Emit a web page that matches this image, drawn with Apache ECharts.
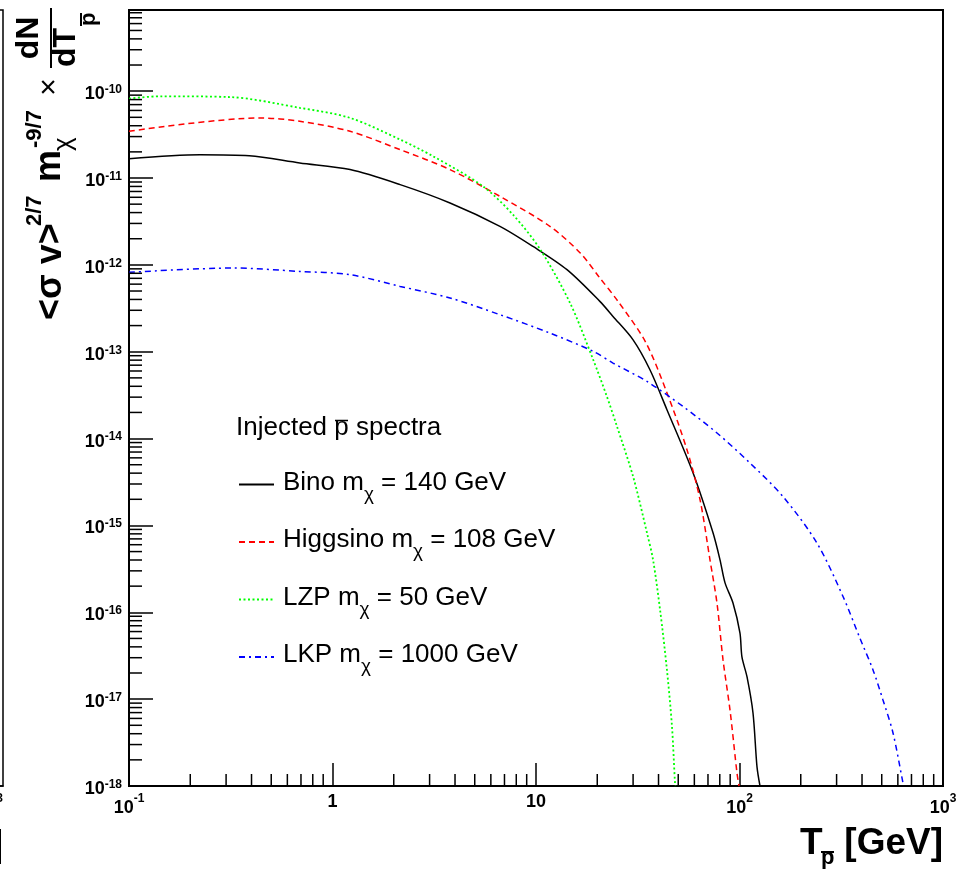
<!DOCTYPE html>
<html>
<head>
<meta charset="utf-8">
<script src="https://cdn.jsdelivr.net/npm/echarts@6/dist/echarts.min.js"></script>
<style>
  html, body { margin: 0; padding: 0; background: #fff; }
  #chart { width: 968px; height: 871px; }
</style>
</head>
<body>
<div id="chart"></div>
<script>
// Injected antiproton spectra: kinetic energy T [GeV] vs. scaled yield
const binoEnergy = [0.1, 0.223, 0.39, 0.69, 1.22, 2.15, 3.78, 6.65, 9.67, 14.2, 20.6, 23.9, 30.0, 36.3, 44.0, 59.1, 74.1, 80.2, 84.9, 92.9, 100.5, 102.8, 108.9, 116.5, 121.9, 126.1];
const binoFlux = [1.67e-11, 1.85e-11, 1.80e-11, 1.49e-11, 1.25e-11, 8.39e-12, 5.16e-12, 2.78e-12, 1.63e-12, 8.81e-13, 3.80e-13, 2.55e-13, 1.37e-13, 6.2e-14, 2.15e-14, 4.04e-15, 8.22e-16, 4.02e-16, 2.18e-16, 1.28e-16, 5.79e-17, 3.06e-17, 1.80e-17, 6.93e-18, 1.66e-18, 1.0e-18];

const higgsinoEnergy = [0.1, 0.44, 0.69, 1.22, 2.15, 3.78, 6.65, 11.7, 16.5, 20.6, 25.3, 34.5, 44.0, 55.2, 64.0, 71.6, 77.5, 83.0, 89.8, 97.2, 99.5];
const higgsinoFlux = [3.45e-11, 4.92e-11, 4.50e-11, 3.45e-11, 2.12e-11, 1.25e-11, 6.15e-12, 2.78e-12, 1.37e-12, 7.06e-13, 3.80e-13, 1.30e-13, 3.37e-14, 7.43e-15, 1.97e-15, 4.02e-16, 1.28e-16, 2.83e-17, 7.52e-18, 1.41e-18, 1.0e-18];

const lzpEnergy = [0.1, 0.142, 0.313, 0.69, 1.22, 2.15, 3.12, 5.49, 7.71, 10.5, 14.7, 19.1, 22.3, 25.0, 30.0, 35.1, 37.6, 40.7, 44.0, 46.6, 48.2, 48.5];
const lzpFlux = [8.22e-11, 8.73e-11, 8.55e-11, 6.43e-11, 4.92e-11, 2.77e-11, 1.78e-11, 8.02e-12, 3.78e-12, 1.50e-12, 3.64e-13, 8.09e-14, 3.05e-14, 1.38e-14, 3.66e-15, 8.22e-16, 4.02e-16, 1.07e-16, 2.17e-17, 4.79e-18, 1.08e-18, 1.0e-18];

const lkpEnergy = [0.1, 0.324, 0.69, 1.22, 2.15, 3.78, 6.65, 11.7, 19.1, 23.9, 35.1, 52.8, 77.5, 112.7, 163.6, 240.4, 322.6, 391, 453, 507, 568, 636, 640];
const lkpFlux = [8.20e-13, 9.20e-13, 8.41e-13, 7.71e-13, 5.65e-13, 4.16e-13, 2.67e-13, 1.64e-13, 1.01e-13, 7.41e-14, 4.55e-14, 2.34e-14, 1.16e-14, 5.22e-15, 2.15e-15, 6.25e-16, 1.52e-16, 5.0e-17, 2.17e-17, 9.79e-18, 4.08e-18, 1.08e-18, 1.0e-18];

const modelNames = ['Bino', 'Higgsino', 'LZP', 'LKP'];
const modelMasses = [140, 108, 50, 1000];

// Axis ranges and log-axis tick structure
const xMin = 0.1, xMax = 1000;
const yMin = 1e-18, yMax = 8.6e-10;
const xDecades = [0.1, 1, 10, 100];
const yDecades = [1e-18, 1e-17, 1e-16, 1e-15, 1e-14, 1e-13, 1e-12, 1e-11, 1e-10];
const minorSteps = [2, 3, 4, 5, 6, 7, 8, 9];

const FONT = 'Liberation Sans, Arial, Helvetica, sans-serif';

const zip = (xs, ys) => xs.map((x, i) => [x, ys[i]]);

const xMinorTicks = [];
xDecades.forEach(d => minorSteps.forEach(s => xMinorTicks.push([d * s, yMin])));
const yMinorTicks = [];
yDecades.forEach(d => minorSteps.forEach(s => { if (d * s < yMax) yMinorTicks.push([xMin, d * s]); }));

function exponentOf(v) {
  const l = Math.log10(v);
  const e = Math.round(l);
  return Math.abs(l - e) < 1e-6 ? e : null;
}
function xLabel(v) {
  const e = exponentOf(v);
  if (e === null) return '';
  if (e === 0) return '{b|1}';
  if (e === 1) return '{b|10}';
  return '{b|10}{sx|' + e + '}';
}
function yLabel(v) {
  const e = exponentOf(v);
  if (e === null) return '';
  return '{b|10}{sy|' + e + '}';
}
const labelRich = {
  b: { fontSize: 18, fontWeight: 'bold', fontFamily: FONT, color: '#000' },
  sx: { fontSize: 12, fontWeight: 'bold', fontFamily: FONT, color: '#000', padding: [0, 0, 19, 0] },
  sy: { fontSize: 12, fontWeight: 'bold', fontFamily: FONT, color: '#000', padding: [0, 0, 9, 0] }
};

const lineStyles = [
  { color: '#000000', width: 1.5, type: 'solid' },
  { color: '#ff0000', width: 1.5, type: [6, 4] },
  { color: '#00ff00', width: 1.8, type: [2, 2.5] },
  { color: '#0000ff', width: 1.5, type: [6, 4, 2, 4] }
];
const curves = [
  zip(binoEnergy, binoFlux),
  zip(higgsinoEnergy, higgsinoFlux),
  zip(lzpEnergy, lzpFlux),
  zip(lkpEnergy, lkpFlux)
];

function txt(x, y, text, size, weight, align) {
  return {
    type: 'text', x: x, y: y,
    style: { text: text, fontSize: size, fontWeight: weight, fontFamily: FONT, fill: '#000',
             align: align || 'left', verticalAlign: 'middle' }
  };
}
function bar(x1, y1, x2, y2, w) {
  return { type: 'line', shape: { x1: x1, y1: y1, x2: x2, y2: y2 }, style: { stroke: '#000', lineWidth: w || 1.5 } };
}

const chart = echarts.init(document.getElementById('chart'), null, { renderer: 'canvas' });

const option = {
  animation: false,
  backgroundColor: '#fff',
  grid: [
    { left: 129, right: 25, top: 10, bottom: 85, show: true, borderColor: '#000', borderWidth: 2,
      backgroundColor: 'transparent', containLabel: false, outerBoundsMode: 'none' },
    // edge of the neighbouring panel on the left
    { left: -600, right: 965, top: 10, bottom: 85, show: true, borderColor: '#000', borderWidth: 1.5,
      backgroundColor: 'transparent', containLabel: false, outerBoundsMode: 'none' }
  ],
  xAxis: [
    {
      type: 'log', logBase: 10, min: xMin, max: xMax, gridIndex: 0,
      axisLine: { show: true, onZero: false, lineStyle: { color: '#000', width: 2 } },
      axisTick: { show: true, inside: true, length: 23, lineStyle: { color: '#000', width: 1.5 } },
      axisLabel: { show: true, margin: 7, verticalAlign: 'top', formatter: xLabel, rich: labelRich },
      splitLine: { show: false }, minorTick: { show: false }
    },
    {
      type: 'log', logBase: 10, min: xMin, max: xMax, gridIndex: 1,
      name: 'T [GeV]', nameLocation: 'end', nameGap: 0,
      nameTextStyle: { fontSize: 37, fontWeight: 'bold', fontFamily: FONT, color: '#000',
                       align: 'right', verticalAlign: 'top', padding: [41, 0, 0, 0] },
      axisLine: { show: true, onZero: false, lineStyle: { color: '#000', width: 1.5 } },
      axisTick: { show: false },
      axisLabel: { show: true, margin: 7, align: 'right', verticalAlign: 'top', formatter: xLabel, rich: labelRich },
      splitLine: { show: false }
    }
  ],
  yAxis: [
    {
      type: 'log', logBase: 10, min: yMin, max: yMax, gridIndex: 0, splitNumber: 10,
      axisLine: { show: true, onZero: false, lineStyle: { color: '#000', width: 2 } },
      axisTick: { show: true, inside: true, length: 24, lineStyle: { color: '#000', width: 1.5 } },
      axisLabel: { show: true, margin: 7, padding: [6, 0, 0, 0], formatter: yLabel, rich: labelRich },
      splitLine: { show: false }, minorTick: { show: false }
    },
    {
      type: 'log', logBase: 10, min: yMin, max: yMax, gridIndex: 1, show: false
    }
  ],
  legend: {
    orient: 'vertical', left: 233, top: 460, padding: 5,
    itemWidth: 35, itemHeight: 14, itemGap: 18.5,
    selectedMode: false,
    data: modelNames,
    itemStyle: { opacity: 0, borderWidth: 0 },
    formatter: function (name) {
      const m = modelMasses[modelNames.indexOf(name)];
      return '{t|' + name + ' m}{c|χ}{t| = ' + m + ' GeV}';
    },
    textStyle: {
      padding: [0, 0, 0, 4],
      rich: {
        t: { fontSize: 26, lineHeight: 30, verticalAlign: 'top', fontFamily: FONT, color: '#000' },
        c: { fontSize: 19, lineHeight: 22, padding: [20, 0, 0, 0], fontFamily: FONT, color: '#000' }
      }
    }
  },
  series: curves.map((data, i) => ({
    name: modelNames[i],
    type: 'line',
    xAxisIndex: 0, yAxisIndex: 0,
    data: data,
    showSymbol: false, symbol: 'none',
    smooth: 0.3,
    lineStyle: lineStyles[i],
    itemStyle: { color: lineStyles[i].color },
    clip: true,
    z: 3
  })).concat([
    {
      // minor ticks along the energy axis
      type: 'custom', xAxisIndex: 0, yAxisIndex: 0, silent: true, clip: false, z: 4,
      data: xMinorTicks,
      renderItem: function (params, api) {
        const p = api.coord([api.value(0), api.value(1)]);
        return { type: 'line', shape: { x1: p[0], y1: p[1], x2: p[0], y2: p[1] - 12 },
                 style: { stroke: '#000', lineWidth: 1.5 } };
      }
    },
    {
      // minor ticks along the yield axis
      type: 'custom', xAxisIndex: 0, yAxisIndex: 0, silent: true, clip: false, z: 4,
      data: yMinorTicks,
      renderItem: function (params, api) {
        const p = api.coord([api.value(0), api.value(1)]);
        return { type: 'line', shape: { x1: p[0], y1: p[1], x2: p[0] + 13, y2: p[1] },
                 style: { stroke: '#000', lineWidth: 1.5 } };
      }
    }
  ]),
  graphic: [
    // y-axis title, reading bottom to top
    {
      type: 'group', x: 0, y: 330, rotation: Math.PI / 2,
      children: [
        txt(10, 51, '<σ v>', 36, 'bold'),
        txt(104, 35, '2/7', 22, 'bold'),
        txt(148, 50, 'm', 36, 'bold'),
        txt(179, 64, 'χ', 26, 'normal'),
        txt(182, 35, '-9/7', 22, 'bold'),
        txt(243, 50, '×', 30, 'normal', 'center'),
        txt(292, 29, 'dN', 32, 'bold', 'center'),
        bar(262, 51, 322, 51, 2),
        txt(263, 66, 'dT', 32, 'bold'),
        txt(304, 89, 'p', 22, 'bold'),
        bar(304, 81, 317, 81, 2)
      ]
    },
    // x-axis title
    txt(800, 844, 'T', 37, 'bold'),
    txt(821, 858, 'p', 22, 'bold'),
    bar(821, 852, 834, 852, 2),
    txt(943, 844, '[GeV]', 37, 'bold', 'right'),
    // legend header
    txt(236, 428, 'Injected p spectra', 26, 'normal'),
    bar(335, 420.5, 348, 420.5, 1.5)
  ]
};

chart.setOption(option);
</script>
</body>
</html>
